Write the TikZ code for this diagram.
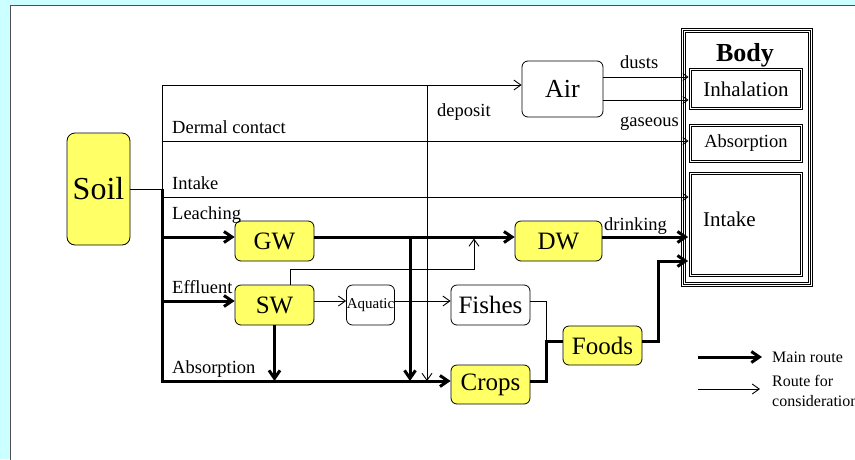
\documentclass[tikz,border=0pt]{standalone}
\usepackage{fontspec}
\setmainfont{Liberation Serif}
\usetikzlibrary{arrows.meta}
\definecolor{bgcyan}{RGB}{204,255,255}
\definecolor{boxyellow}{RGB}{255,255,102}
\definecolor{framegray}{RGB}{80,80,80}
\newcommand{\fsz}[1]{\fontsize{#1}{#1}\selectfont}
\begin{document}
\begin{tikzpicture}[x=1pt,y=-1pt,
  ybox/.style={draw, rounded corners=6pt, fill=boxyellow, line width=0.8pt, inner sep=0pt, font=\fsz{25}},
  wbox/.style={draw, rounded corners=6pt, fill=white, line width=0.8pt, inner sep=0pt},
  dbox/.style={draw, double, double distance=1.6pt, line width=0.8pt, inner sep=0pt, minimum width=111pt},
  thinln/.style={line width=0.9pt},
  thickln/.style={line width=3pt},
  thinarr/.style={thinln, -{Straight Barb[length=7pt,width=10pt]}},
  thickarr/.style={thickln, -{Straight Barb[length=8pt,width=11pt]}},
  bodyarr/.style={thinln, -{Straight Barb[length=5pt,width=7pt]}, shorten >=1.5pt},
  lbl/.style={anchor=base west, inner sep=0pt, font=\fsz{18.5}}
]
\clip (0,0) rectangle (855,459);
\fill[bgcyan] (0,0) rectangle (855,459);
\draw[framegray, fill=white, line width=0.9pt] (10,5) rectangle (875,480);

% nodes
\node[ybox, minimum width=63pt, minimum height=112pt, rounded corners=8pt, font=\fsz{32}] (soil) at (98.5,189) {Soil};
\node[wbox, minimum width=81pt, minimum height=56pt, font=\fsz{26}] (air) at (562.5,89) {Air};
\node[ybox, minimum width=79pt, minimum height=40pt] (gw) at (274.5,241) {GW};
\node[ybox, minimum width=79pt, minimum height=40pt] (sw) at (274.5,305) {SW};
\node[wbox, minimum width=48pt, minimum height=40pt, font=\fsz{15}] (aquatic) at (370.5,305) {Aquatic};
\node[wbox, minimum width=79pt, minimum height=40pt, font=\fsz{25}] (fishes) at (490.5,305) {Fishes};
\node[ybox, minimum width=87pt, minimum height=40pt] (dw) at (558.5,241) {DW};
\node[ybox, minimum width=79pt, minimum height=39pt] (foods) at (602.5,345.5) {Foods};
\node[ybox, minimum width=79pt, minimum height=39pt] (crops) at (490.5,384.5) {Crops};

% body
\node[draw, line width=0.8pt, minimum width=131pt, minimum height=258pt, inner sep=0pt] (body) at (746.5,157) {};
\draw[line width=0.8pt] ([xshift=2.5pt,yshift=-2.5pt]body.north west) rectangle ([xshift=-2.5pt,yshift=2.5pt]body.south east);
\draw[line width=0.8pt] ([xshift=4.5pt,yshift=-4.5pt]body.north west) rectangle ([xshift=-4.5pt,yshift=4.5pt]body.south east);
\node[font=\bfseries\fsz{26}, anchor=base, inner sep=0pt] (bodylbl) at (745,61) {Body};
\node[dbox, minimum height=39pt, font=\fsz{21}] (inhal) at (746,89) {Inhalation};
\node[dbox, minimum height=36pt, font=\fsz{18.5}] (absorp) at (746,143.5) {Absorption};
\node[dbox, minimum height=102pt] (intakebox) at (746,224.5) {};
\node[lbl, font=\fsz{21}] (intakelbl) at (703,226) {Intake};

% junction coordinates
\coordinate (j0) at (162,189);
\coordinate (jtop) at (162,85);
\coordinate (jderm) at (162,141);
\coordinate (jint) at (162,197);
\coordinate (jgw) at (162,237);
\coordinate (jsw) at (162,301);
\coordinate (jbot) at (162,381);
\coordinate (gwe) at ([yshift=4pt]gw.east);
\coordinate (kgw) at (410,237);
\coordinate (kdep) at (427,85);
\coordinate (dwin) at (474,237);
\coordinate (swu) at ([xshift=15.5pt]sw.north);
\coordinate (swe) at ([yshift=4pt]sw.east);
\coordinate (aqe) at ([yshift=4pt]aquatic.east);
\coordinate (fie) at ([yshift=4pt]fishes.east);
\coordinate (cre) at ([yshift=3.5pt]crops.east);
\coordinate (kf) at (546,341);
\coordinate (foe) at ([yshift=4.5pt]foods.east);
\coordinate (kfood) at (658,261);
\coordinate (dwe) at ([yshift=4pt]dw.east);
\coordinate (airu) at ([yshift=12pt]air.east);
\coordinate (aird) at ([yshift=-11pt]air.east);

% trunk
\draw[thinln] (soil.east) -- (j0);
\draw[thinln] (jtop) -- (j0);
\draw[thickarr] (j0) -- (jbot) -- (jbot -| crops.west);

% thin routes
\draw[thinarr] (jtop) -- (jtop -| air.west);
\draw[bodyarr] (jderm) -- (jderm -| absorp.west);
\draw[bodyarr] (jint) -- (jint -| intakebox.west);
\draw[bodyarr] (airu) -- (airu -| inhal.west);
\draw[bodyarr] (aird) -- (aird -| inhal.west);
\draw[thinarr] (kdep) -- (kdep |- jbot);
\draw[thinarr, shorten >=1.5pt] (swu) |- ([yshift=-32pt]dwin) -- (dwin);
\draw[thinarr] (swe) -- (swe -| aquatic.west);
\draw[thinarr] (aqe) -- (aqe -| fishes.west);
\draw[thinln] (fie) -| (kf);

% thick routes
\draw[thickarr] (jgw) -- (jgw -| gw.west);
\draw[thickarr] (jsw) -- (jsw -| sw.west);
\draw[thickarr] (gwe) -- (gwe -| dw.west);
\draw[thickarr] (kgw) -- (kgw |- jbot);
\draw[thickarr] (sw.south) -- (sw.south |- jbot);
\draw[thickarr, shorten >=2pt] (dwe) -- (dwe -| intakebox.west);
\draw[thickln] (cre) -| (kf) -- (kf -| foods.west);
\draw[thickarr, shorten >=2pt] (foe) -| (kfood) -- (kfood -| intakebox.west);

% labels
\node[lbl] (l1) at (172,133) {Dermal contact};
\node[lbl] (l2) at (172,189) {Intake};
\node[lbl] (l3) at (172,219) {Leaching};
\node[lbl] (l4) at (172,293) {Effluent};
\node[lbl] (l5) at (172,373) {Absorption};
\node[lbl] (l6) at (437,116) {deposit};
\node[lbl] (l7) at (620,68) {dusts};
\node[lbl] (l8) at (620,126) {gaseous};
\node[lbl] (l9) at (604,230) {drinking};

% legend
\coordinate (lg1a) at (698,357);
\coordinate (lg1b) at (762,357);
\coordinate (lg2a) at (698,389);
\coordinate (lg2b) at (760,389);
\draw[thickarr] (lg1a) -- (lg1b);
\draw[thinarr] (lg2a) -- (lg2b);
\node[lbl, font=\fsz{16}] (lg1) at (772,362) {Main route};
\node[lbl, font=\fsz{16}] (lg2) at (772,386) {Route for};
\node[lbl, font=\fsz{16}] (lg3) at (772,406) {consideration};
\end{tikzpicture}
\end{document}
